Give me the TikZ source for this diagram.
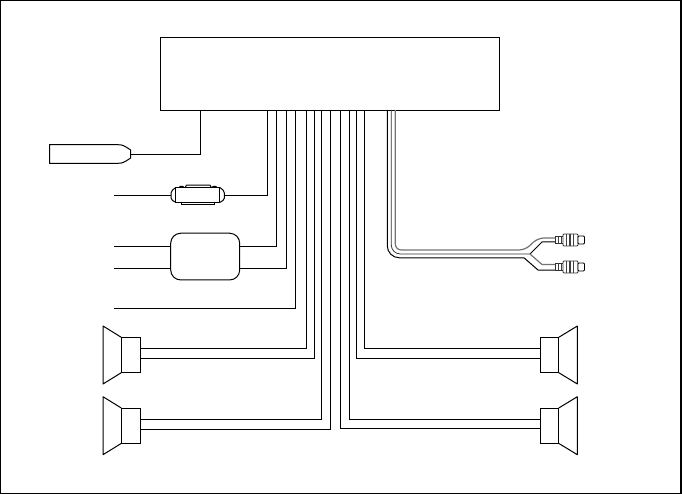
\documentclass[tikz,border=0pt]{standalone}
\tikzset{
  wire/.style={draw=black,line width=1pt,line join=miter},
  part/.style={draw=black,line width=1pt,fill=white,inner sep=0pt,outer sep=0pt,rectangle},
  rib/.style={draw=black!75,line width=.9pt},
}
\newcommand{\speakerL}[1]{\draw[wire,line join=round] (#1.north west) -- ++(-18.3,-11.3) -- ++(0,58) -- ++(18.3,-11.3);}
\newcommand{\speakerR}[1]{\draw[wire,line join=round] (#1.north east) -- ++(18.6,-11.3) -- ++(0,58) -- ++(-18.6,-11.3);}
\newcommand{\rcaplug}[2]{%
  \node[part,draw=black!80,line width=.8pt,minimum width=8pt,minimum height=6.5pt,anchor=east] (#1n) at (563,#2) {};
  \node[part,draw=black!80,line width=.8pt,minimum width=15pt,minimum height=12pt,rounded corners=1pt,anchor=west] (#1) at (563,#2) {};
  \node[part,line width=.9pt,minimum width=6.5pt,minimum height=8pt,rounded corners=1pt,anchor=west] (#1t) at (578,#2) {};
  \draw[rib] (558.5,#2-3) -- (558.5,#2+3) (561,#2-3) -- (561,#2+3);
  \draw[rib] (566,#2-6) -- (566,#2+6);
  \draw[rib,line width=1.6pt] (570,#2-6) -- (570,#2+6);
  \draw[rib] (573.5,#2-6) -- (573.5,#2+6);
}
\begin{document}
\begin{tikzpicture}[x=1pt,y=-1pt]
\useasboundingbox (0,0) rectangle (682,494);
\draw[line width=1.5pt] (0.4,0.4) rectangle (681.2,493.3);

% head unit
\node[part,minimum width=339pt,minimum height=73pt] (main) at (329.5,73.8) {};

% exits under the head unit
\coordinate (pa) at (200.7,110);
\coordinate (p1) at (267.7,110);
\coordinate (p2) at (276.5,110);
\coordinate (p3) at (286,110);
\coordinate (p4) at (295.6,110);
\coordinate (p5) at (306.4,110);
\coordinate (p6) at (314,110);
\coordinate (p7) at (321.4,110);
\coordinate (p8) at (330.3,110);
\coordinate (p9) at (340.4,110);
\coordinate (p10) at (349.3,110);
\coordinate (p11) at (356.7,110);
\coordinate (p12) at (364.4,110);

% antenna plug
\draw[wire,line join=round] (118,144.7) -- (49.5,144.7) -- (49.5,163.3) -- (118,163.3)
  .. controls (123,163) .. (130.7,158) -- (130.7,150) .. controls (123,145) .. (118,144.7);
\coordinate (anttip) at (130.7,154.4);
\draw[wire] (pa) |- (anttip);

% fuse
\draw[wire,line join=round,fill=white] (175.7,187.6) -- (172.5,190) -- (171,193) -- (171,198) -- (172.5,200.5) -- (175.7,202.3)
  -- (220,202.3) -- (223,200.5) -- (224.4,198) -- (224.4,193) -- (223,190) -- (220,187.6) -- cycle;
\draw[wire,line join=round] (185,187.6) -- (186.5,185.2) -- (210,185.2) -- (211.5,187.6);
\draw[wire,line join=round] (179,187.6) -- (180,186.5) -- (183,186.5) -- (184,187.6);
\draw[wire,line join=round] (212,187.6) -- (213,186.5) -- (216,186.5) -- (217,187.6);
\draw[wire] (181.7,202.3) -- (181.7,204.7) -- (214,204.7) -- (214,202.3);
\node[part,minimum width=44.3pt,minimum height=14.7pt] (fuse) at (197.8,195.1) {};
\coordinate (fl) at (171,195.3);
\coordinate (fr) at (224.4,195.3);
\coordinate (fe) at (114,195.3);
\draw[wire] (fe) -- (fl);
\draw[wire] (p1) |- (fr);

% filter box
\node[part,minimum width=69pt,minimum height=46.7pt,rounded corners=10pt] (amp) at (205.2,256.6) {};
\coordinate (al1) at (170.7,247);
\coordinate (al2) at (170.7,268.4);
\coordinate (ar1) at (239.7,247);
\coordinate (ar2) at (239.7,268.4);
\coordinate (ae1) at (114,247);
\coordinate (ae2) at (114,268.4);
\draw[wire] (ae1) -- (al1);
\draw[wire] (ae2) -- (al2);
\draw[wire] (p2) |- (ar1);
\draw[wire] (p3) |- (ar2);

% free lead
\coordinate (le) at (114,308);
\draw[wire] (p4) |- (le);

% speakers
\node[part,minimum width=19pt,minimum height=35.4pt] (s1) at (130.8,355) {};
\node[part,minimum width=19pt,minimum height=35.4pt] (s2) at (130.8,425.7) {};
\node[part,minimum width=18.7pt,minimum height=35.4pt] (s3) at (549.4,355) {};
\node[part,minimum width=18.7pt,minimum height=35.4pt] (s4) at (549.4,425.7) {};
\speakerL{s1}
\speakerL{s2}
\speakerR{s3}
\speakerR{s4}
\coordinate (s1a) at (140.3,348.3);
\coordinate (s1b) at (140.3,358.3);
\coordinate (s2a) at (140.3,419.3);
\coordinate (s2b) at (140.3,429.3);
\coordinate (s3a) at (540,348.3);
\coordinate (s3b) at (540,358.3);
\coordinate (s4a) at (540,419.3);
\coordinate (s4b) at (540,428.7);
\draw[wire] (p5) |- (s1a);
\draw[wire] (p6) |- (s1b);
\draw[wire] (p7) |- (s2a);
\draw[wire] (p8) |- (s2b);
\draw[wire] (p9) |- (s4b);
\draw[wire] (p10) |- (s4a);
\draw[wire] (p11) |- (s3b);
\draw[wire] (p12) |- (s3a);

% RCA lead
\rcaplug{rcaa}{240}
\rcaplug{rcab}{267}
\coordinate (ra) at (387.3,110);
\coordinate (rb) at (391.3,110);
\coordinate (rc) at (395.3,110);
\coordinate (fork) at (530,254);
\draw[wire,black!55,line width=1.2pt,rounded corners=6pt] (rc) -- (395.3,250) -- (525,250) -- (538,238) -- (rcaan.west |- 0,238);
\draw[wire,black!80,line width=.8pt,rounded corners=9pt] (rb) -- (391.3,254) -- (fork);
\draw[wire,rounded corners=12pt] (ra) -- (387.3,257.8) -- (524,257.8);
\draw[wire] (524,257.8) -- (538,270) -- (rcabn.west |- 0,270);
\draw[wire] (fork) -- (542,242) -- (rcaan.west |- 0,242);
\draw[wire,black!55,line width=1.2pt] (fork) -- (542,264.5) -- (rcabn.west |- 0,264.5);
\end{tikzpicture}
\end{document}
